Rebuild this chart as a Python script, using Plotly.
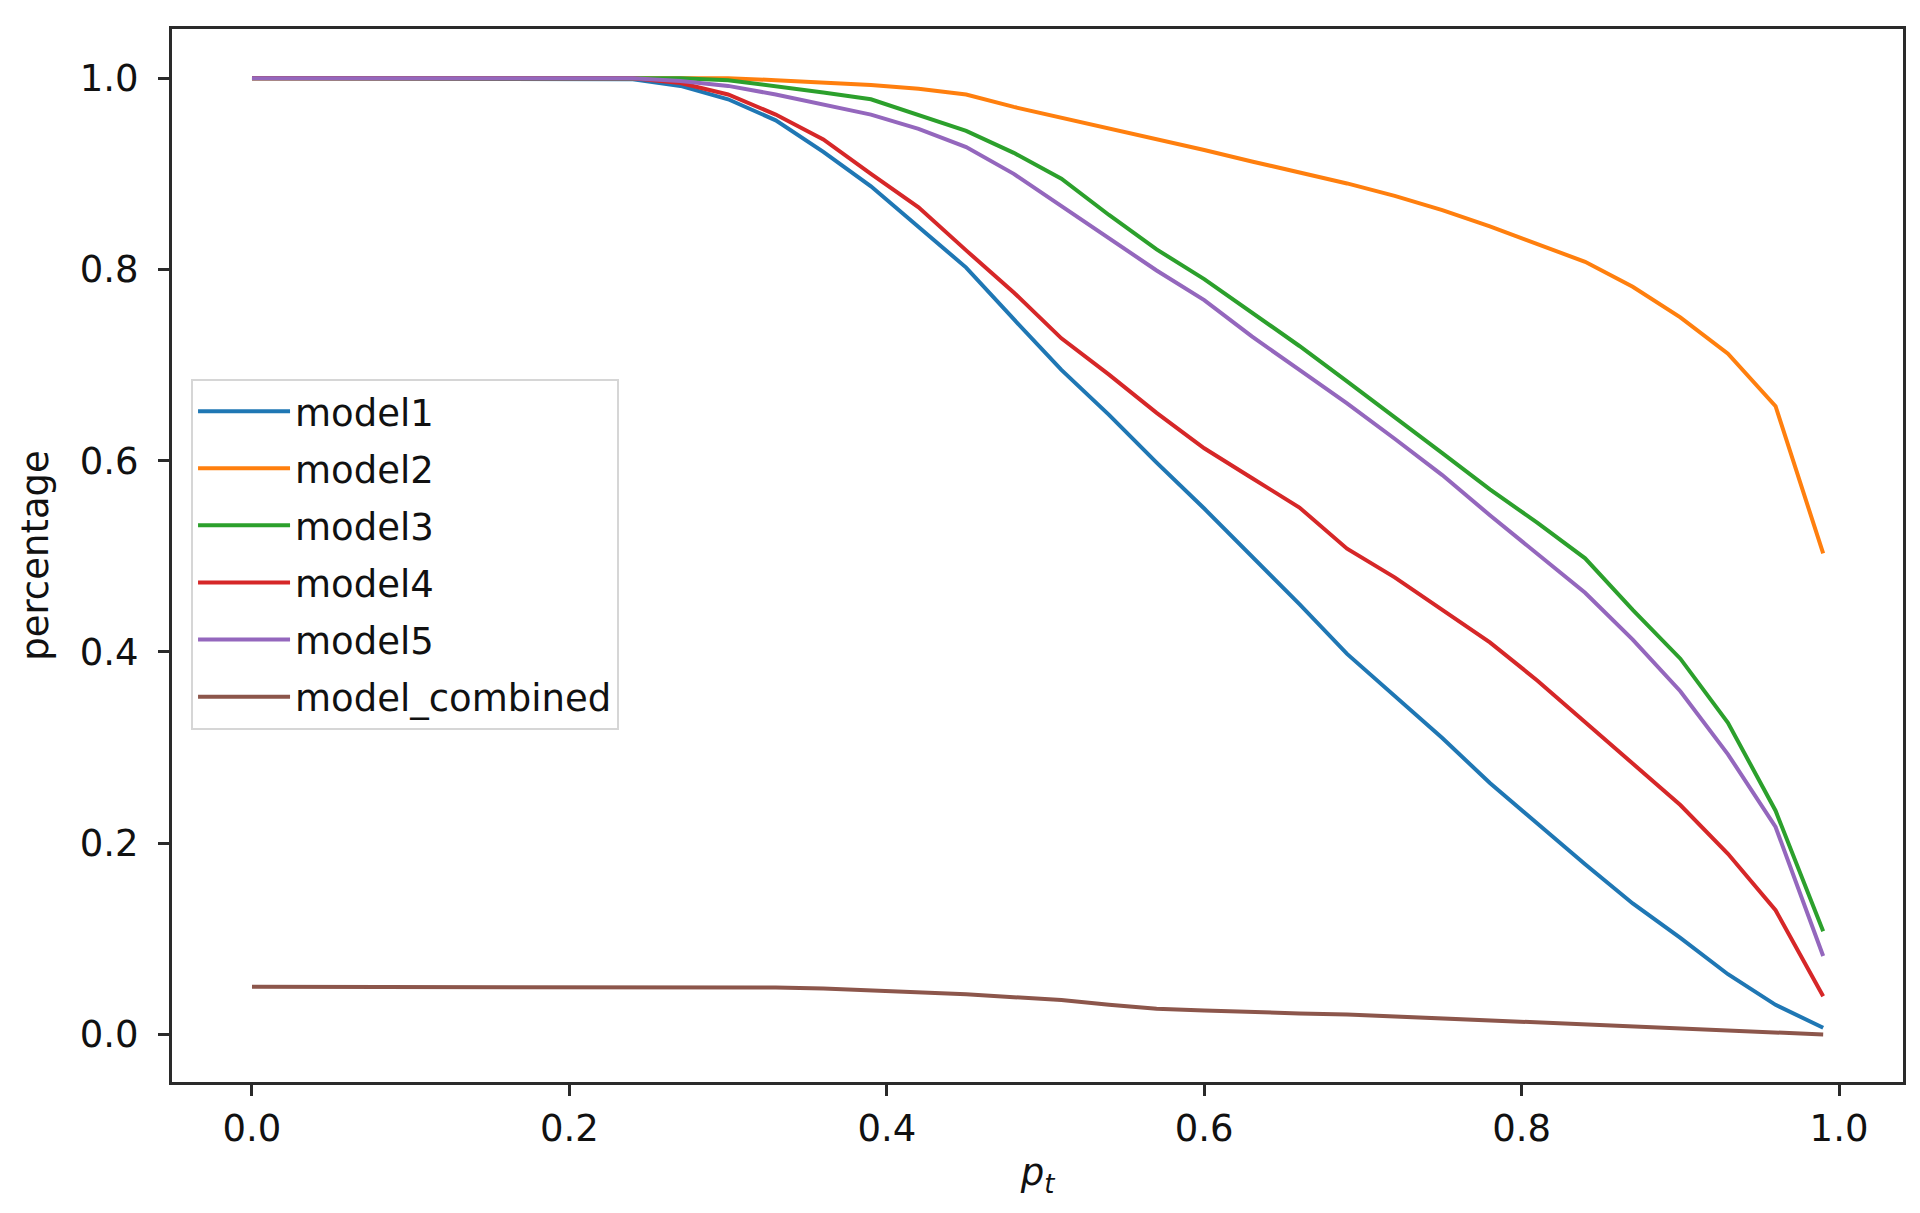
import plotly.graph_objects as go

p_t = [round(0.03 * i, 2) for i in range(34)]

model1 = [1.0, 1.0, 1.0, 1.0, 1.0, 1.0, 1.0, 1.0, 0.999, 0.992, 0.978, 0.956, 0.923, 0.887,
          0.845, 0.802, 0.748, 0.695, 0.648, 0.598, 0.550, 0.500, 0.450, 0.398, 0.354, 0.310,
          0.263, 0.220, 0.178, 0.137, 0.101, 0.063, 0.031, 0.007]
model2 = [1.0, 1.0, 1.0, 1.0, 1.0, 1.0, 1.0, 1.0, 1.0, 1.0, 1.0, 0.998, 0.996, 0.993,
          0.989, 0.983, 0.970, 0.959, 0.948, 0.937, 0.925, 0.913, 0.902, 0.890, 0.877, 0.862,
          0.845, 0.827, 0.808, 0.782, 0.750, 0.712, 0.657, 0.503]
model3 = [1.0, 1.0, 1.0, 1.0, 1.0, 1.0, 1.0, 1.0, 1.0, 1.0, 0.998, 0.992, 0.985, 0.978,
          0.962, 0.945, 0.922, 0.895, 0.857, 0.821, 0.790, 0.755, 0.720, 0.683, 0.646, 0.608,
          0.570, 0.535, 0.498, 0.444, 0.393, 0.326, 0.234, 0.108]
model4 = [1.0, 1.0, 1.0, 1.0, 1.0, 1.0, 1.0, 1.0, 1.0, 0.995, 0.983, 0.962, 0.936, 0.900,
          0.865, 0.820, 0.776, 0.728, 0.690, 0.650, 0.613, 0.582, 0.551, 0.508, 0.478, 0.444,
          0.410, 0.370, 0.327, 0.283, 0.240, 0.189, 0.130, 0.040]
model5 = [1.0, 1.0, 1.0, 1.0, 1.0, 1.0, 1.0, 1.0, 1.0, 0.997, 0.992, 0.983, 0.973, 0.962,
          0.947, 0.928, 0.900, 0.866, 0.832, 0.799, 0.768, 0.730, 0.695, 0.660, 0.623, 0.585,
          0.543, 0.503, 0.462, 0.413, 0.359, 0.293, 0.217, 0.082]
model_combined = [0.050, 0.050, 0.050, 0.050, 0.050, 0.050, 0.050, 0.050, 0.050, 0.050, 0.049,
                  0.049, 0.048, 0.046, 0.045, 0.042, 0.039, 0.036, 0.031, 0.027, 0.025, 0.023,
                  0.022, 0.021, 0.019, 0.017, 0.015, 0.013, 0.011, 0.009, 0.007, 0.005, 0.003, 0.0]

series_names = ["model1", "model2", "model3", "model4", "model5", "model_combined"]
series_values = [model1, model2, model3, model4, model5, model_combined]
colors = ["#1f77b4", "#ff7f0e", "#2ca02c", "#d62728", "#9467bd", "#8c564b"]

x_ticks = [0.0, 0.2, 0.4, 0.6, 0.8, 1.0]
y_ticks = [0.0, 0.2, 0.4, 0.6, 0.8, 1.0]

FONT = "DejaVu Sans"
FS = 37

fig = go.Figure()
for name, vals, col in zip(series_names, series_values, colors):
    fig.add_trace(go.Scatter(
        x=p_t, y=vals, mode="lines", name=name, legendgroup=name,
        line=dict(color=col, width=4),
    ))

axis_common = dict(
    showline=True, linecolor="#2a2a2a", linewidth=3, mirror=True,
    ticks="outside", ticklen=11, tickwidth=3, tickcolor="#2a2a2a",
    showgrid=False, zeroline=False, automargin=False,
    tickfont=dict(family=FONT, size=FS, color="#111111"),
    tickformat=".1f",
)

fig.update_layout(
    width=1920, height=1213,
    margin=dict(l=164, r=25, t=21, b=139),
    paper_bgcolor="white", plot_bgcolor="white",
    font=dict(family=FONT, size=FS, color="#111111"),
    xaxis=dict(range=[-0.0504, 1.0403], tickvals=x_ticks, ticklabelstandoff=1,
               title=dict(text="<i>p</i><sub><i>t</i></sub>", font=dict(family=FONT, size=FS), standoff=10),
               **axis_common),
    yaxis=dict(range=[-0.0497, 1.0515], tickvals=y_ticks, ticklabelstandoff=12,
               title=dict(text="percentage", font=dict(family=FONT, size=FS), standoff=20),
               **axis_common),
    legend=dict(
        x=0.011, y=0.668, xanchor="left", yanchor="top",
        bgcolor="rgba(255,255,255,0.85)", bordercolor="#d6d6d6", borderwidth=2,
        font=dict(family=FONT, size=FS, color="#111111"),
        tracegroupgap=6, traceorder="grouped",
        itemwidth=92,
    ),
    showlegend=True,
)

fig.write_html("out.html")
